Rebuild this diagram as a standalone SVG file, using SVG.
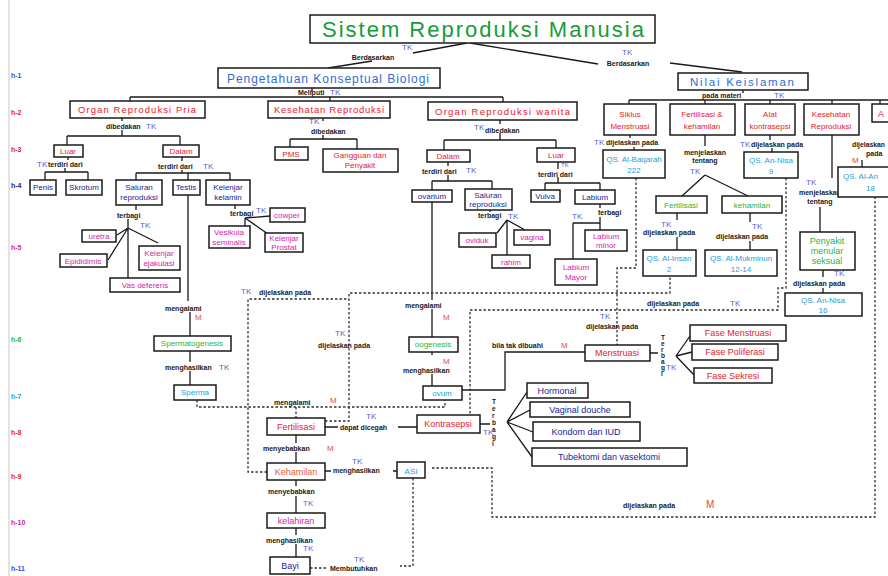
<svg xmlns="http://www.w3.org/2000/svg" width="888" height="576" viewBox="0 0 888 576">
<style>
text{font-family:"Liberation Sans",Arial,sans-serif}
.b{fill:#fff;stroke:#1a1a1a;stroke-width:1.5}
.l{fill:none;stroke:#1a1a1a;stroke-width:1.3}
.d{fill:none;stroke:#333;stroke-width:1.3;stroke-dasharray:2.5 2}
.c{text-anchor:middle}
.r{fill:#e8202c}.bl{fill:#2f6ed6}.nv{fill:#22229c}.mg{fill:#d81ca8}.gr{fill:#1fb53a}.cy{fill:#1e9ee0}.or{fill:#ef5a30}
.s8{font-size:8px}.s9{font-size:9px}
.lb{font-size:7px;fill:#1a1a1a;font-weight:bold}
.tk{font-size:8px;fill:#5a5ad8}
.m{font-size:8px;fill:#e84848}
.h{font-size:7px;font-weight:bold}
</style>
<rect width="888" height="576" fill="#fff"/>
<line x1="9" y1="0" x2="9" y2="576" stroke="#e6e2dc" stroke-width="2"/>

<g id="levels">
<text x="11" y="78" class="h" fill="#2f55c8">h-1</text>
<text x="11" y="115" class="h" fill="#e8202c">h-2</text>
<text x="11" y="152" class="h" fill="#e8202c">h-3</text>
<text x="11" y="188" class="h" fill="#22229c">h-4</text>
<text x="11" y="250" class="h" fill="#d81ca8">h-5</text>
<text x="11" y="342" class="h" fill="#1fb53a">h-6</text>
<text x="11" y="399" class="h" fill="#1e9ee0">h-7</text>
<text x="11" y="435" class="h" fill="#e8202c">h-8</text>
<text x="11" y="479" class="h" fill="#e8202c">h-9</text>
<text x="11" y="525" class="h" fill="#d81ca8">h-10</text>
<text x="11" y="571" class="h" fill="#2f55c8">h-11</text>
</g>

<g id="connectors">
<path class="l" d="M467,43 L413,53 M372,61 L328,68 M470,43 L598,64 M670,63 L742,72"/>
<path class="l" d="M312,88 V92 M130,97 H503 M130,97 V101 M330,97 V101 M503,97 V102"/>
<path class="l" d="M743,90 V93 M629,100 H888 M629,100 V104 M705,100 V104 M770,100 V104 M832,100 V104 M880,100 V104"/>
<path class="l" d="M122,118 V121 M122,130 V136 M67,136 H180 M67,136 V145 M180,136 V145"/>
<path class="l" d="M68,157 V160 M65,168 V172 M45,172 H88 M45,172 V180 M88,172 V180"/>
<path class="l" d="M182,157 V161 M182,170 V173 M136,173 H230 M136,173 V180 M188,173 V180 M230,173 V180"/>
<path class="l" d="M136,205 V210 M128,219 V228 M128,228 L117,235 M128,228 L108,260 M128,228 L158,243 M128,228 V278"/>
<path class="l" d="M188,195 V301 M235,205 V209 M245,218 L270,216 M245,218 L268,234 M245,218 V226"/>
<path class="l" d="M190,312 V336 M190,351 V362 M190,371 V385"/>
<path class="l" d="M323,118 V121 M323,135 V139 M290,139 H357 M290,139 V147 M357,139 V149"/>
<path class="l" d="M500,120 V124 M500,133 V140 M444,140 H556 M444,140 V150 M556,140 V148"/>
<path class="l" d="M448,162 V166 M448,175 V181 M432,181 H492 M432,181 V190 M492,181 V189"/>
<path class="l" d="M558,162 V169 M558,177 V183 M545,183 H600 M545,183 V190 M600,183 V190"/>
<path class="l" d="M490,210 V212 M507,220 L497,233 M507,220 L525,230 M507,220 V255"/>
<path class="l" d="M600,204 V208 M600,217 V230 M573,223 H600 M573,223 V259"/>
<path class="l" d="M432,202 V300 M432,309 V337 M432,352 V355 M432,374 V386"/>
<path class="l" d="M462,390 H505 V352 H585"/>
<path class="l" d="M650,353 H658 M676,356 L690,336 M676,356 L692,352 M676,356 L694,375"/>
<path class="l" d="M325,427 H338 M398,427 H417 M296,435 V443 M296,452 V463"/>
<path class="l" d="M480,424 H490 M507,422 L527,392 M507,422 L530,410 M507,422 L533,432 M507,422 L532,457"/>
<path class="l" d="M325,471 H331 M393,471 H397 M296,480 V486 M296,496 V513 M296,528 V535 M296,544 V557"/>
<path class="l" d="M705,135 V146 M705,175 L682,196 M705,175 L748,196 M677,213 V220 M677,237 V250 M750,213 V222 M750,241 V250"/>
<path class="l" d="M832,135 V178 M820,207 V232 M823,270 V277 M823,288 V293"/>
<path class="l" d="M630,135 V138 M634,147 V150 M770,135 V140 M772,148 V152 M862,160 V167"/>
<path class="d" d="M197,400 V407 H445 V400 M296,407 V418"/>
<path class="d" d="M267,472 H248 V299 H349"/>
<path class="d" d="M325,421 H349 V293 H670 V276"/>
<path class="d" d="M786,178 V288 H778 V310 H470 V415"/>
<path class="d" d="M636,178 V268 H617 V345"/>
<path class="d" d="M432,468 H492 V517 H875 V197"/>
<path class="d" d="M413,478 V566 H400 M310,568 H326"/>
</g>

<g id="labels">
<text x="402" y="50" class="tk">TK</text>
<text x="373" y="60" class="lb c">Berdasarkan</text>
<text x="622" y="55" class="tk">TK</text>
<text x="628" y="66" class="lb c">Berdasarkan</text>
<text x="298" y="95" class="lb">Meliputi</text><text x="330" y="95" class="tk">TK</text>
<text x="702" y="98" class="lb">pada materi</text><text x="774" y="98" class="tk">TK</text>
<text x="106" y="129" class="lb">dibedakan</text><text x="146" y="129" class="tk">TK</text>
<text x="37" y="167" class="tk">TK</text><text x="48" y="167" class="lb">terdiri dari</text>
<text x="158" y="169" class="lb">terdiri dari</text><text x="203" y="169" class="tk">TK</text>
<text x="117" y="218" class="lb">terbagi</text><text x="140" y="228" class="tk">TK</text>
<text x="230" y="216" class="lb">terbagi</text><text x="256" y="213" class="tk">TK</text>
<text x="309" y="124" class="tk">TK</text><text x="311" y="134" class="lb">dibedakan</text>
<text x="474" y="130" class="tk">TK</text><text x="485" y="133" class="lb">dibedakan</text>
<text x="422" y="174" class="lb">terdiri dari</text><text x="466" y="173" class="tk">TK</text>
<text x="561" y="167" class="tk" style="font-size:6px">TK</text><text x="538" y="177" class="lb">terdiri dari</text>
<text x="478" y="218" class="lb">terbagi</text><text x="508" y="219" class="tk">TK</text>
<text x="572" y="219" class="tk">TK</text><text x="598" y="215" class="lb">terbagi</text>
<text x="594" y="145" class="tk">TK</text><text x="606" y="145" class="lb">dijelaskan pada</text>
<text x="705" y="155" class="lb c">menjelaskan</text><text x="705" y="163" class="lb c">tentang</text><text x="690" y="174" class="tk">TK</text>
<text x="740" y="147" class="tk">TK</text><text x="751" y="147" class="lb">dijelaskan pada</text>
<text x="661" y="227" class="tk">TK</text><text x="643" y="235" class="lb">dijelaskan pada</text>
<text x="752" y="229" class="tk">TK</text><text x="716" y="239" class="lb">dijelaskan pada</text>
<text x="806" y="185" class="tk">TK</text><text x="820" y="195" class="lb c">menjelaskan</text><text x="820" y="204" class="lb c">tentang</text>
<text x="834" y="276" class="tk">TK</text><text x="793" y="286" class="lb">dijelaskan pada</text>
<text x="852" y="147" class="lb" textLength="33" lengthAdjust="spacingAndGlyphs">dijelaskan</text><text x="866" y="156" class="lb">pada</text><text x="852" y="163" class="m">M</text>
<text x="165" y="311" class="lb">mengalami</text><text x="195" y="320" class="m">M</text>
<text x="165" y="370" class="lb">menghasilkan</text><text x="219" y="370" class="tk">TK</text>
<text x="241" y="294" class="tk">TK</text><text x="259" y="295" class="lb">dijelaskan pada</text>
<text x="405" y="308" class="lb">mengalami</text><text x="443" y="320" class="m">M</text>
<text x="335" y="336" class="tk">TK</text><text x="318" y="348" class="lb">dijelaskan pada</text>
<text x="443" y="364" class="m">M</text><text x="403" y="373" class="lb">menghasilkan</text>
<text x="492" y="348" class="lb">bila tak dibuahi</text><text x="561" y="348" class="m">M</text>
<text x="274" y="405" class="lb">mengalami</text><text x="330" y="403" class="m">M</text>
<text x="366" y="419" class="tk">TK</text><text x="340" y="430" class="lb">dapat dicegah</text>
<text class="lb" style="font-size:6.5px"><tspan x="492" y="404">T</tspan><tspan x="492" y="411">e</tspan><tspan x="492" y="418">r</tspan><tspan x="492" y="425">b</tspan><tspan x="492" y="432">a</tspan><tspan x="492" y="439">g</tspan><tspan x="492" y="446">i</tspan></text>
<text x="483" y="435" class="tk">TK</text>
<text x="647" y="306" class="lb">dijelaskan pada</text><text x="730" y="306" class="tk">TK</text>
<text x="600" y="319" class="tk">TK</text><text x="586" y="329" class="lb">dijelaskan pada</text>
<text class="lb" style="font-size:6.5px"><tspan x="661" y="340">T</tspan><tspan x="661" y="346">e</tspan><tspan x="661" y="352">r</tspan><tspan x="661" y="358">b</tspan><tspan x="661" y="364">a</tspan><tspan x="661" y="370">g</tspan><tspan x="661" y="376">i</tspan></text>
<text x="666" y="370" class="tk">TK</text>
<text x="263" y="451" class="lb">menyebabkan</text><text x="327" y="451" class="m">M</text>
<text x="352" y="464" class="tk">TK</text><text x="333" y="473" class="lb">menghasilkan</text>
<text x="268" y="494" class="lb">menyebabkan</text><text x="303" y="506" class="tk">TK</text>
<text x="266" y="543" class="lb">menghasilkan</text><text x="303" y="551" class="tk">TK</text>
<text x="354" y="562" class="tk">TK</text><text x="330" y="571" class="lb">Membutuhkan</text>
<text x="623" y="508" class="lb">dijelaskan   pada</text><text x="706" y="508" class="m" style="font-size:10px">M</text>
</g>

<g id="n-title"><rect class="b" x="310" y="15" width="345" height="28"/><text x="322" y="37" textLength="322" lengthAdjust="spacing" style="font-size:22px" fill="#1a9a3a">Sistem Reproduksi Manusia</text></g>
<g id="n-pengetahuan"><rect class="b" x="218" y="68" width="222" height="20"/><text x="227" y="83" textLength="202" lengthAdjust="spacing" style="font-size:12px" class="bl">Pengetahuan Konseptual Biologi</text></g>
<g id="n-nilai"><rect class="b" x="678" y="73" width="130" height="17"/><text x="690" y="86" textLength="104" lengthAdjust="spacing" style="font-size:11.5px" class="bl">Nilai Keislaman</text></g>

<g id="n-orgpria"><rect class="b" x="70" y="101" width="135" height="17"/><text x="78" y="113" textLength="118" lengthAdjust="spacing" class="r" style="font-size:9.5px">Organ Reproduksi Pria</text></g>
<g id="n-kesrep1"><rect class="b" x="268" y="101" width="122" height="17"/><text x="274" y="113" textLength="110" lengthAdjust="spacing" class="r" style="font-size:9.5px">Kesehatan Reproduksi</text></g>
<g id="n-orgwanita"><rect class="b" x="428" y="102" width="149" height="18"/><text x="435" y="115" textLength="135" lengthAdjust="spacing" class="r" style="font-size:9.5px">Organ Reproduksi wanita</text></g>
<g id="n-siklus"><rect class="b" x="604" y="104" width="52" height="31"/><text class="r s8 c"><tspan x="630" y="117">Siklus</tspan><tspan x="630" y="129">Menstruasi</tspan></text></g>
<g id="n-fertkeh"><rect class="b" x="670" y="104" width="65" height="31"/><text class="r s8 c"><tspan x="702" y="117">Fertilisasi &amp;</tspan><tspan x="702" y="129">kehamilan</tspan></text></g>
<g id="n-alat"><rect class="b" x="745" y="104" width="50" height="31"/><text class="r s8 c"><tspan x="770" y="117">Alat</tspan><tspan x="770" y="129">kontrasepsi</tspan></text></g>
<g id="n-kesrep2"><rect class="b" x="804" y="104" width="55" height="31"/><text class="r s8 c"><tspan x="831" y="117">Kesehatan</tspan><tspan x="831" y="129">Reproduksi</tspan></text></g>
<g id="n-a"><rect class="b" x="872" y="104" width="30" height="18"/><text x="878" y="117" class="r s9">A</text></g>

<g id="n-luar-p"><rect class="b" x="54" y="145" width="29" height="12"/><text x="68" y="154" class="r s8 c">Luar</text></g>
<g id="n-dalam-p"><rect class="b" x="163" y="145" width="36" height="12"/><text x="181" y="154" class="r s8 c">Dalam</text></g>
<g id="n-pms"><rect class="b" x="275" y="147" width="33" height="13"/><text x="291" y="157" class="r s8 c">PMS</text></g>
<g id="n-gangguan"><rect class="b" x="323" y="149" width="75" height="23"/><text class="r s8 c"><tspan x="360" y="158">Gangguan dan</tspan><tspan x="360" y="168">Penyakit</tspan></text></g>
<g id="n-dalam-w"><rect class="b" x="427" y="150" width="43" height="12"/><text x="448" y="159" class="r s8 c">Dalam</text></g>
<g id="n-luar-w"><rect class="b" x="537" y="148" width="38" height="14"/><text x="556" y="158" class="r s8 c">Luar</text></g>

<g id="n-penis"><rect class="b" x="30" y="180" width="26" height="15"/><text x="43" y="190" class="nv s8 c">Penis</text></g>
<g id="n-skrotum"><rect class="b" x="66" y="180" width="36" height="15"/><text x="84" y="190" class="nv s8 c">Skrotum</text></g>
<g id="n-salpria"><rect class="b" x="116" y="180" width="46" height="25"/><text class="nv s8 c"><tspan x="139" y="190">Saluran</tspan><tspan x="139" y="200">reproduksi</tspan></text></g>
<g id="n-testis"><rect class="b" x="173" y="180" width="27" height="15"/><text x="186" y="190" class="nv s8 c">Testis</text></g>
<g id="n-kelenjar"><rect class="b" x="206" y="180" width="44" height="25"/><text class="nv s8 c"><tspan x="228" y="190">Kelenjar</tspan><tspan x="228" y="200">kelamin</tspan></text></g>
<g id="n-ovarium"><rect class="b" x="412" y="190" width="40" height="12"/><text x="432" y="199" class="nv s8 c">ovarium</text></g>
<g id="n-salwanita"><rect class="b" x="465" y="189" width="47" height="21"/><text class="nv s8 c"><tspan x="488" y="198">Saluran</tspan><tspan x="488" y="207">reproduksi</tspan></text></g>
<g id="n-vulva"><rect class="b" x="531" y="190" width="29" height="12"/><text x="545" y="199" class="nv s8 c">Vulva</text></g>
<g id="n-labium"><rect class="b" x="575" y="190" width="40" height="14"/><text x="595" y="200" class="nv s8 c">Labium</text></g>

<g id="n-qs-baqarah"><rect class="b" x="603" y="150" width="62" height="28"/><text class="cy s8 c"><tspan x="634" y="162">QS. Al-Baqarah</tspan><tspan x="634" y="173">222</tspan></text></g>
<g id="n-qs-annisa9"><rect class="b" x="744" y="152" width="54" height="26"/><text class="cy s8 c"><tspan x="771" y="163">QS. An-Nisa</tspan><tspan x="771" y="174">9</tspan></text></g>
<g id="n-qs-right"><rect class="b" x="838" y="167" width="60" height="30"/><text class="cy s8"><tspan x="843" y="179">QS. Al-An</tspan><tspan x="866" y="191">18</tspan></text></g>

<g id="n-uretra"><rect class="b" x="82" y="230" width="34" height="12"/><text x="99" y="239" class="mg s8 c">uretra</text></g>
<g id="n-epididimis"><rect class="b" x="60" y="254" width="47" height="13"/><text x="83" y="264" class="mg s8 c">Epididimis</text></g>
<g id="n-kelejak"><rect class="b" x="139" y="246" width="41" height="24"/><text class="mg s8 c"><tspan x="159" y="256">Kelenjar</tspan><tspan x="159" y="266">ejakulasi</tspan></text></g>
<g id="n-vas"><rect class="b" x="110" y="278" width="70" height="14"/><text x="145" y="288" class="mg s8 c">Vas deferens</text></g>
<g id="n-cowper"><rect class="b" x="270" y="208" width="35" height="14"/><text x="287" y="218" class="mg s8 c">cowper</text></g>
<g id="n-vesikula"><rect class="b" x="209" y="226" width="41" height="22"/><text class="mg s8 c"><tspan x="229" y="235">Vesikula</tspan><tspan x="229" y="245">seminalis</tspan></text></g>
<g id="n-prostat"><rect class="b" x="265" y="233" width="38" height="19"/><text class="mg s8 c"><tspan x="284" y="241">Kelenjar</tspan><tspan x="284" y="250">Prostat</tspan></text></g>
<g id="n-oviduk"><rect class="b" x="459" y="233" width="37" height="14"/><text x="477" y="243" class="mg s8 c">oviduk</text></g>
<g id="n-vagina"><rect class="b" x="514" y="230" width="36" height="15"/><text x="532" y="240" class="mg s8 c">vagina</text></g>
<g id="n-rahim"><rect class="b" x="492" y="255" width="38" height="13"/><text x="511" y="265" class="mg s8 c">rahim</text></g>
<g id="n-labminor"><rect class="b" x="585" y="230" width="42" height="21"/><text class="mg s8 c"><tspan x="606" y="239">Labium</tspan><tspan x="606" y="248">minor</tspan></text></g>
<g id="n-labmayor"><rect class="b" x="555" y="259" width="42" height="26"/><text class="mg s8 c"><tspan x="576" y="270">Labium</tspan><tspan x="576" y="280">Mayor</tspan></text></g>

<g id="n-fertilisasi-g"><rect class="b" x="656" y="196" width="51" height="17"/><text x="681" y="208" class="gr s8 c">Fertilisasi</text></g>
<g id="n-kehamilan-g"><rect class="b" x="722" y="196" width="60" height="17"/><text x="752" y="208" class="gr s8 c">kehamilan</text></g>
<g id="n-pms-g"><rect class="b" x="800" y="232" width="55" height="38"/><text class="gr s9 c"><tspan x="827" y="244">Penyakit</tspan><tspan x="827" y="254">menular</tspan><tspan x="827" y="264">seksual</tspan></text></g>
<g id="n-qs-insan"><rect class="b" x="643" y="250" width="53" height="26"/><text class="cy s8 c"><tspan x="669" y="261">QS. Al-Insan</tspan><tspan x="669" y="272">2</tspan></text></g>
<g id="n-qs-mukminun"><rect class="b" x="705" y="250" width="72" height="26"/><text class="cy s8 c"><tspan x="741" y="261">QS. Al-Mukminun</tspan><tspan x="741" y="272">12-14</tspan></text></g>
<g id="n-qs-annisa16"><rect class="b" x="785" y="293" width="77" height="23"/><text class="cy s8 c"><tspan x="823" y="303">QS. An-Nisa</tspan><tspan x="823" y="313">16</tspan></text></g>

<g id="n-spermatogenesis"><rect class="b" x="154" y="336" width="77" height="15"/><text x="192" y="346" class="gr s8 c">Spermatogenesis</text></g>
<g id="n-oogenesis"><rect class="b" x="409" y="337" width="49" height="15"/><text x="433" y="347" class="gr s8 c">oogenesis</text></g>
<g id="n-menstruasi"><rect class="b" x="585" y="345" width="65" height="16"/><text x="617" y="356" class="r s9 c">Menstruasi</text></g>
<g id="n-fase-m"><rect class="b" x="690" y="325" width="96" height="16"/><text x="738" y="336" class="r s9 c">Fase Menstruasi</text></g>
<g id="n-fase-p"><rect class="b" x="692" y="344" width="86" height="16"/><text x="735" y="355" class="r s9 c">Fase Poliferasi</text></g>
<g id="n-fase-s"><rect class="b" x="694" y="368" width="78" height="15"/><text x="733" y="379" class="r s9 c">Fase Sekresi</text></g>

<g id="n-sperma"><rect class="b" x="174" y="385" width="42" height="15"/><text x="195" y="395" class="cy s8 c">Sperma</text></g>
<g id="n-ovum"><rect class="b" x="423" y="386" width="39" height="14"/><text x="442" y="396" class="cy s8 c">ovum</text></g>
<g id="n-hormonal"><rect class="b" x="527" y="383" width="61" height="15"/><text x="557" y="394" class="nv s9 c">Hormonal</text></g>
<g id="n-vaginal"><rect class="b" x="530" y="402" width="100" height="15"/><text x="580" y="413" class="nv s9 c">Vaginal douche</text></g>
<g id="n-kondom"><rect class="b" x="533" y="422" width="107" height="19"/><text x="586" y="435" class="nv s9 c">Kondom dan IUD</text></g>
<g id="n-tubektomi"><rect class="b" x="532" y="448" width="155" height="18"/><text x="609" y="460" class="nv s9 c">Tubektomi dan vasektomi</text></g>

<g id="n-fertilisasi"><rect class="b" x="267" y="418" width="58" height="17"/><text x="296" y="430" class="r s9 c">Fertilisasi</text></g>
<g id="n-kontrasepsi"><rect class="b" x="417" y="415" width="63" height="18"/><text x="448" y="427" class="r s9 c">Kontrasepsi</text></g>
<g id="n-kehamilan"><rect class="b" x="267" y="463" width="58" height="17"/><text x="296" y="475" class="or s9 c">Kehamilan</text></g>
<g id="n-asi"><rect class="b" x="397" y="462" width="28" height="16"/><text x="411" y="474" class="cy s8 c">ASI</text></g>
<g id="n-kelahiran"><rect class="b" x="267" y="513" width="58" height="15"/><text x="296" y="524" class="mg s9 c">kelahiran</text></g>
<g id="n-bayi"><rect class="b" x="270" y="557" width="40" height="17"/><text x="290" y="569" class="nv s9 c">Bayi</text></g>
</svg>
